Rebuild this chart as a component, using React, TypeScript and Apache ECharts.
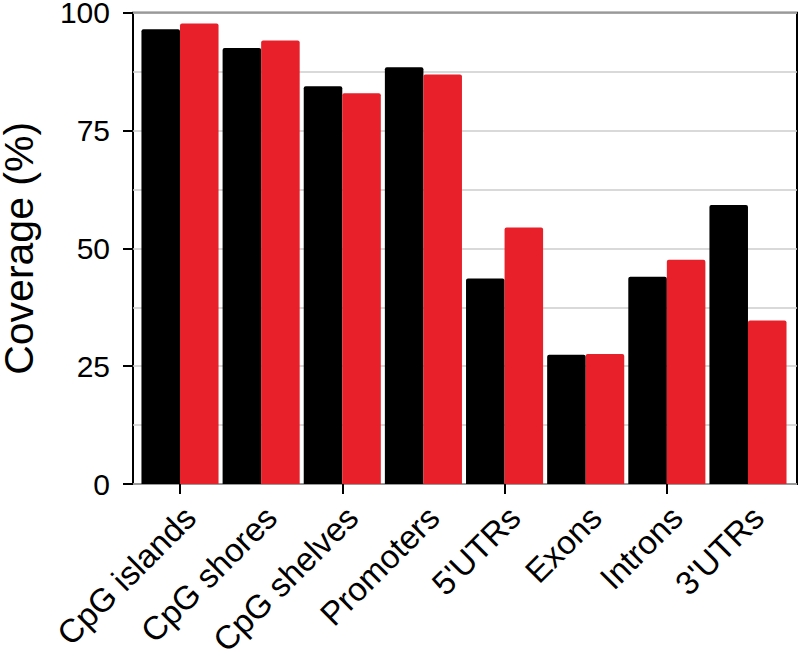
import React, { useEffect, useRef } from "react";
import * as echarts from "echarts";

const categories = ["CpG islands", "CpG shores", "CpG shelves", "Promoters", "5'UTRs", "Exons", "Introns", "3'UTRs"];
const blackValues = [96.5, 92.5, 84.4, 88.4, 43.6, 27.4, 44.0, 59.2];
const redValues = [97.7, 94.1, 82.9, 86.9, 54.4, 27.6, 47.6, 34.7];
const yTicks = [0, 25, 50, 75, 100];

const FONT = "Liberation Sans, Arial, Helvetica, sans-serif";

export default function App() {
  const ref = useRef<HTMLDivElement>(null);
  useEffect(() => {
    document.body.style.margin = "0";
    if (!ref.current) return;
    const chart = echarts.init(ref.current, undefined, { renderer: "svg" });
    const top = 12.7;
    const bottom = 656 - 484;
    const bandW = 81.14;
    const barsLeft = 180 - bandW / 2;
    const labelShift = 10;
    chart.setOption({
      animation: false,
      backgroundColor: "#ffffff",
      grid: [
        { left: 133, top, width: 664, bottom, outerBoundsMode: "none", containLabel: false, show: true, borderColor: "#000", borderWidth: 2, backgroundColor: "transparent" },
        { left: barsLeft, top, width: bandW * categories.length, bottom, outerBoundsMode: "none", containLabel: false },
        { left: barsLeft + labelShift, top, width: bandW * categories.length, bottom, outerBoundsMode: "none", containLabel: false },
      ],
      xAxis: [
        { type: "value", gridIndex: 0, min: 0, max: 1, show: false },
        {
          type: "category",
          gridIndex: 1,
          data: categories,
          axisLine: { show: false },
          axisTick: { show: true, alignWithLabel: true, length: 10, lineStyle: { color: "#000", width: 2 } },
          axisLabel: { show: false },
          splitLine: { show: false },
        },
        {
          type: "category",
          gridIndex: 2,
          data: categories,
          axisLine: { show: false },
          axisTick: { show: false },
          axisLabel: { rotate: 45, fontSize: 33, lineHeight: 28, color: "#000", fontFamily: FONT, margin: 28, interval: 0 },
          splitLine: { show: false },
        },
      ],
      yAxis: [
        {
          type: "value",
          gridIndex: 0,
          min: yTicks[0],
          max: yTicks[yTicks.length - 1],
          interval: 25,
          name: "Coverage (%)",
          nameLocation: "middle",
          nameGap: 97,
          nameTextStyle: { fontSize: 41, lineHeight: 34, color: "#000", fontFamily: FONT },
          axisLine: { show: false },
          axisTick: { show: true, length: 10, lineStyle: { color: "#000", width: 2 } },
          axisLabel: { fontSize: 30, lineHeight: 22, color: "#000", fontFamily: FONT, margin: 23 },
          splitLine: { show: true, lineStyle: { color: "#cccccc", width: 1.5 } },
          minorTick: { show: false, splitNumber: 2 },
          minorSplitLine: { show: true, lineStyle: { color: "#cccccc", width: 1.5 } },
        },
        { type: "value", gridIndex: 1, min: 0, max: 100, show: false },
        { type: "value", gridIndex: 2, min: 0, max: 100, show: false },
      ],
      series: [
        {
          type: "bar",
          xAxisIndex: 1,
          yAxisIndex: 1,
          data: blackValues,
          barGap: "0%",
          barCategoryGap: "5%",
          itemStyle: { color: "#000000", borderRadius: [2, 2, 0, 0] },
        },
        {
          type: "bar",
          xAxisIndex: 1,
          yAxisIndex: 1,
          data: redValues,
          barGap: "0%",
          barCategoryGap: "5%",
          itemStyle: { color: "#e8202a", borderRadius: [2, 2, 0, 0] },
        },
      ],
    });
    return () => chart.dispose();
  }, []);
  return <div ref={ref} style={{ width: 800, height: 656 }} />;
}
